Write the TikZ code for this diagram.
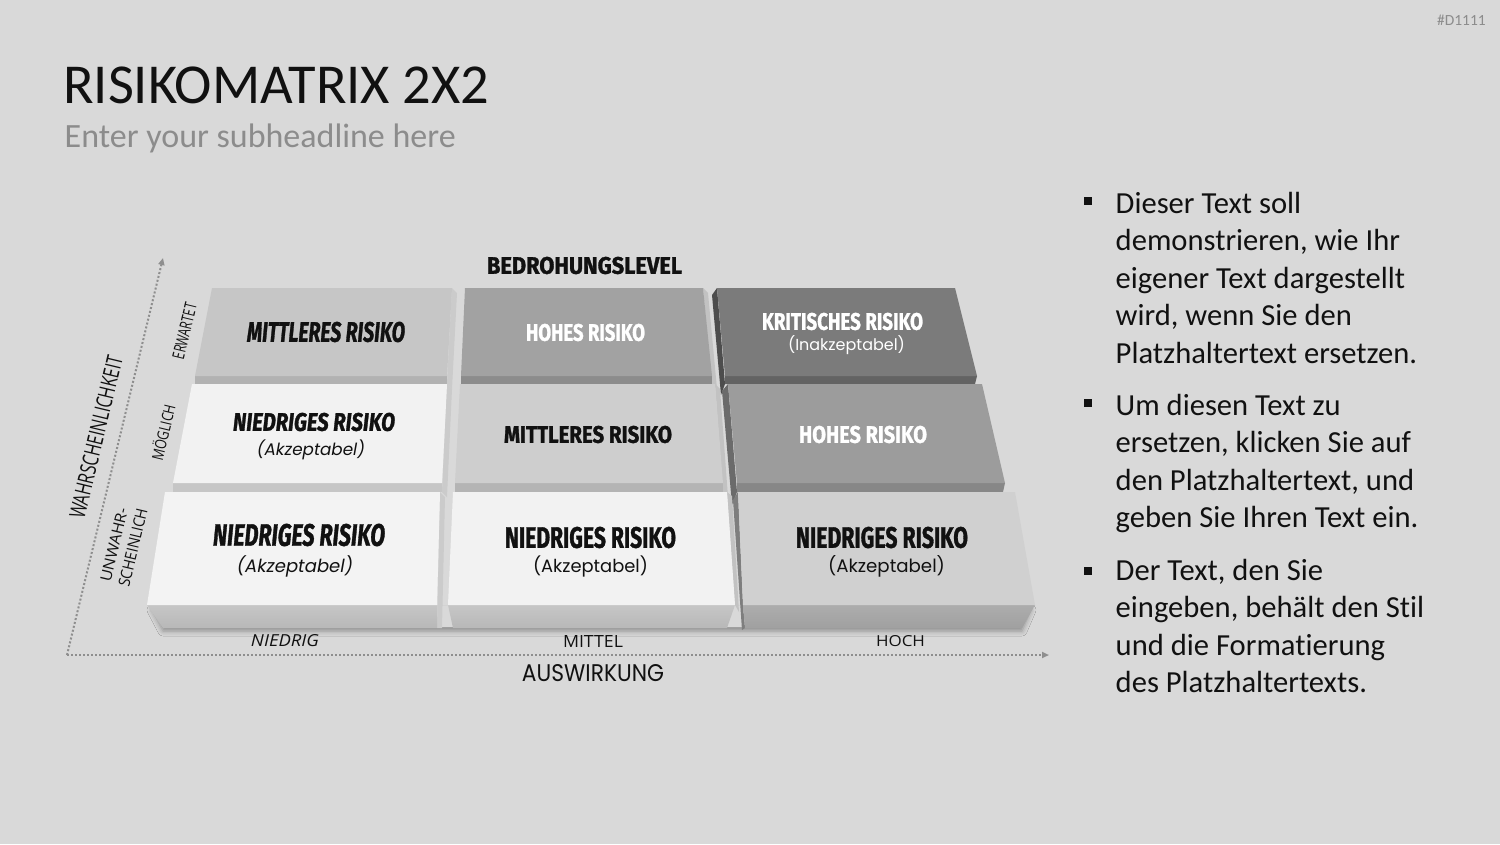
\documentclass[tikz,border=0pt]{standalone}
\usepackage{fontspec}
\usepackage{graphicx}
\setmainfont{Carlito}[Ligatures=NoCommon]
\newfontfamily\labfont{Fira Sans}[BoldFeatures={FakeBold=1.4},BoldItalicFeatures={FakeBold=1.4}]
\newfontfamily\geofont{Poppins}
\newfontfamily\axfont{Open Sans}
\usetikzlibrary{arrows.meta,shadows.blur}
\definecolor{bg}{HTML}{D9D9D9}
\definecolor{ink}{HTML}{111111}
\definecolor{subgrey}{HTML}{8C8C8C}
\definecolor{axgrey}{HTML}{8E8E8E}
\definecolor{cAat}{HTML}{C6C6C6}\definecolor{cAaf}{HTML}{B2B2B2}
\definecolor{cBat}{HTML}{A2A2A2}\definecolor{cBaf}{HTML}{8C8C8C}
\definecolor{cCat}{HTML}{7B7B7B}\definecolor{cCaf}{HTML}{636363}\definecolor{cCas}{HTML}{4D4D4D}
\definecolor{cAbt}{HTML}{F2F2F2}\definecolor{cAbf}{HTML}{C6C6C6}
\definecolor{cBbt}{HTML}{CECECE}\definecolor{cBbf}{HTML}{B4B4B4}
\definecolor{cCbt}{HTML}{9C9C9C}\definecolor{cCbf}{HTML}{878787}\definecolor{cCbs}{HTML}{6B6B6B}
\definecolor{cAct}{HTML}{F3F3F3}
\definecolor{cBct}{HTML}{F2F2F2}
\definecolor{cCct}{HTML}{D0D0D0}\definecolor{cCcs}{HTML}{7E7E7E}
\definecolor{frLo}{HTML}{B8B8B8}
\definecolor{frCa}{HTML}{ADADAD}\definecolor{frCb}{HTML}{A0A0A0}
\definecolor{sideL}{HTML}{CBCBCB}
\definecolor{sideM}{HTML}{C2C2C2}
\newcommand\mkB[3]{\resizebox{#1pt}{#2pt}{\labfont\bfseries #3}}
\newcommand\mkBI[3]{\resizebox{#1pt}{#2pt}{\labfont\bfseries\itshape #3}}
\newcommand\mkS[2]{\resizebox{#1pt}{!}{\geofont #2}}
\newcommand\mkSI[2]{\resizebox{#1pt}{!}{\geofont\itshape #2}}
\newcommand\mkA[3]{\resizebox{#1pt}{#2pt}{\axfont #3}}
\newcommand\mkAI[3]{\resizebox{#1pt}{#2pt}{\axfont\itshape #3}}
\begin{document}
\begin{tikzpicture}[x=1pt,y=-1pt,
  lab/.style={inner sep=0pt,text=ink},
  wlab/.style={inner sep=0pt,text=white},
  bul/.style={inner sep=0pt,anchor=base west,text=ink,font=\fontsize{30.6}{37.5}\selectfont},
  bsq/.style={fill=ink,minimum size=8.5pt,inner sep=0pt},
  axis/.style={axgrey,line width=2pt,dash pattern=on 2pt off 2pt,-{Triangle[length=7pt,width=6pt]}},
  vlab/.style={inner sep=0pt,text=ink,rotate=76.5}]
\useasboundingbox (0,0) rectangle (1500,844);
\fill[bg] (0,0) rectangle (1500,844);

% header
\node[anchor=base west,inner sep=0pt,text=ink,font=\fontsize{56.4}{62}\selectfont] (title) at (63,103) {RISIKOMATRIX 2X2};
\node[anchor=base west,inner sep=0pt,text=subgrey,font=\fontsize{34}{40}\selectfont] (sub) at (64.5,147) {Enter your subheadline here};
\node[anchor=base east,inner sep=0pt,text=subgrey,font=\fontsize{15.5}{18}\selectfont] (tag) at (1486,25) {\#D1111};

% axes
\coordinate (origin) at (67,655);
\coordinate (yend) at (163,258);
\coordinate (xend) at (1049,655);
\draw[axis] (origin) -- (yend);
\draw[axis] (origin) -- (xend);

% ---------- row 1 ----------
\fill[sideL] (452,288) -- (457,293) -- (452,389) -- (447,384) -- cycle;
\fill[cAaf] (195,376) -- (447,376) -- (447,384) -- (195,384) -- cycle;
\fill[cAat] (212,288) -- (452,288) -- (447,376) -- (195,376) -- cycle;

\fill[sideM] (703,288) -- (708,293) -- (717,389) -- (712,384) -- cycle;
\fill[cBaf] (461,376) -- (712,376) -- (712,384) -- (461,384) -- cycle;
\fill[cBat] (465,288) -- (703,288) -- (712,376) -- (461,376) -- cycle;

\fill[cCas] (717,288) -- (712,295) -- (721,395) -- (725,384) -- cycle;
\fill[cCaf] (725,376) -- (977,376) -- (975,384) -- (725,384) -- cycle;
\fill[cCat] (717,288) -- (955,288) -- (977,376) -- (725,376) -- cycle;

% ---------- row 2 ----------
\fill[sideL] (447,384) -- (452,389) -- (447,497) -- (442,492) -- cycle;
\fill[cAbf] (173,483) -- (442,483) -- (442,492) -- (173,492) -- cycle;
\fill[cAbt] (192,384) -- (447,384) -- (442,483) -- (173,483) -- cycle;

\fill[sideM] (715,384) -- (720,389) -- (728,497) -- (723,492) -- cycle;
\fill[cBbf] (455,483) -- (723,483) -- (723,492) -- (455,492) -- cycle;
\fill[cBbt] (460,384) -- (715,384) -- (723,483) -- (455,483) -- cycle;

\fill[cCbs] (728,384) -- (722,391) -- (732,505) -- (737,492) -- cycle;
\fill[cCbf] (737,483) -- (1005,483) -- (1003,492) -- (737,492) -- cycle;
\fill[cCbt] (728,384) -- (982,384) -- (1005,483) -- (737,483) -- cycle;

% ---------- row 3 ----------
\fill[bg,blur shadow={shadow xshift=0pt,shadow yshift=-4pt,shadow opacity=35,shadow blur radius=5pt}]
  (152,606) -- (1031,606) -- (1022,627) -- (163,627) -- cycle;
\fill[sideL] (440,492) -- (445,497) -- (442,628) -- (437,628) -- cycle;
\shade[top color=cAbf,bottom color=frLo]  (147,605) -- (437,605) -- (437,628) -- (163,628) -- cycle;
\fill[cAct] (165,492) -- (440,492) -- (437,605) -- (147,605) -- cycle;

\fill[sideM] (727,492) -- (732,496) -- (739,612) -- (735,605) -- cycle;
\shade[top color=cAbf,bottom color=frLo] (448,605) -- (735,605) -- (727,628) -- (453,628) -- cycle;
\fill[cBct] (453,492) -- (727,492) -- (735,605) -- (448,605) -- cycle;

\fill[cCcs] (738,492) -- (733,500) -- (742,630) -- (745,628) -- (743,605) -- cycle;
\shade[top color=frCa,bottom color=frCb] (743,605) -- (1035,605) -- (1022,628) -- (745,628) -- cycle;
\fill[cCct] (738,492) -- (1015,492) -- (1035,605) -- (743,605) -- cycle;

% ---------- labels ----------
\node[lab] (lvl) at (584.5,265.5) {\mkB{195}{17}{BEDROHUNGSLEVEL}};

\node[lab] (a1) at (326,332) {\mkBI{158}{20}{MITTLERES RISIKO}};
\node[wlab] (b1) at (585.5,332.5) {\mkB{119}{17}{HOHES RISIKO}};
\node[wlab] (c1) at (842.5,321.5) {\mkB{161}{17}{KRITISCHES RISIKO}};
\node[wlab] (c1s) at (846.5,345) {\mkS{117}{(Inakzeptabel)}};

\node[lab] (a2) at (314,422) {\mkBI{162}{18}{NIEDRIGES RISIKO}};
\node[lab] (a2s) at (311,449.5) {\mkSI{108}{(Akzeptabel)}};
\node[lab] (b2) at (588,434.5) {\mkB{168}{17}{MITTLERES RISIKO}};
\node[wlab] (c2) at (863,434.5) {\mkB{128}{17}{HOHES RISIKO}};

\node[lab] (a3) at (299,535) {\mkBI{172}{22}{NIEDRIGES RISIKO}};
\node[lab] (a3s) at (295,566) {\mkSI{116}{(Akzeptabel)}};
\node[lab] (b3) at (590.5,537.5) {\mkB{171}{21}{NIEDRIGES RISIKO}};
\node[lab] (b3s) at (590.5,566) {\mkS{115}{(Akzeptabel)}};
\node[lab] (c3) at (882,537.5) {\mkB{172}{21}{NIEDRIGES RISIKO}};
\node[lab] (c3s) at (886.5,566) {\mkS{117}{(Akzeptabel)}};

% axis labels
\node[lab] (xl1) at (285,641) {\mkAI{68}{12}{NIEDRIG}};
\node[lab] (xl2) at (593,641) {\mkA{60}{12}{MITTEL}};
\node[lab] (xl3) at (900.5,641.5) {\mkA{49}{11}{HOCH}};
\node[lab] (xt) at (593,673.5) {\resizebox{142pt}{17pt}{\geofont AUSWIRKUNG}};
\node[vlab] (yt) at (96,437) {\resizebox{166pt}{16pt}{\axfont WAHRSCHEINLICHKEIT}};
\node[vlab] (yl3) at (184.5,331) {\mkA{57}{12}{ERWARTET}};
\node[vlab] (yl2) at (162.5,432.5) {\resizebox{57pt}{14pt}{\axfont MÖGLICH}};
\node[vlab] (yl1a) at (114,545) {\mkA{75}{11}{UNWAHR-}};
\node[vlab] (yl1b) at (133,547.5) {\mkA{80}{11.5}{SCHEINLICH}};

% bullets
\node[bsq] (q1) at (1088,201) {};
\node[bul] (t11) at (1115.5,213) {Dieser Text soll};
\node[bul] (t12) at (1115.5,250.5) {demonstrieren, wie Ihr};
\node[bul] (t13) at (1115.5,288) {eigener Text dargestellt};
\node[bul] (t14) at (1115.5,325.5) {wird, wenn Sie den};
\node[bul] (t15) at (1115.5,363) {Platzhaltertext ersetzen.};

\node[bsq] (q2) at (1088,403) {};
\node[bul] (t21) at (1115.5,415) {Um diesen Text zu};
\node[bul] (t22) at (1115.5,452.5) {ersetzen, klicken Sie auf};
\node[bul] (t23) at (1115.5,490) {den Platzhaltertext, und};
\node[bul] (t24) at (1115.5,527.5) {geben Sie Ihren Text ein.};

\node[bsq] (q3) at (1088,571) {};
\node[bul] (t31) at (1115.5,580) {Der Text, den Sie};
\node[bul] (t32) at (1115.5,617.5) {eingeben, behält den Stil};
\node[bul] (t33) at (1115.5,655) {und die Formatierung};
\node[bul] (t34) at (1115.5,692.5) {des Platzhaltertexts.};
\end{tikzpicture}
\end{document}
